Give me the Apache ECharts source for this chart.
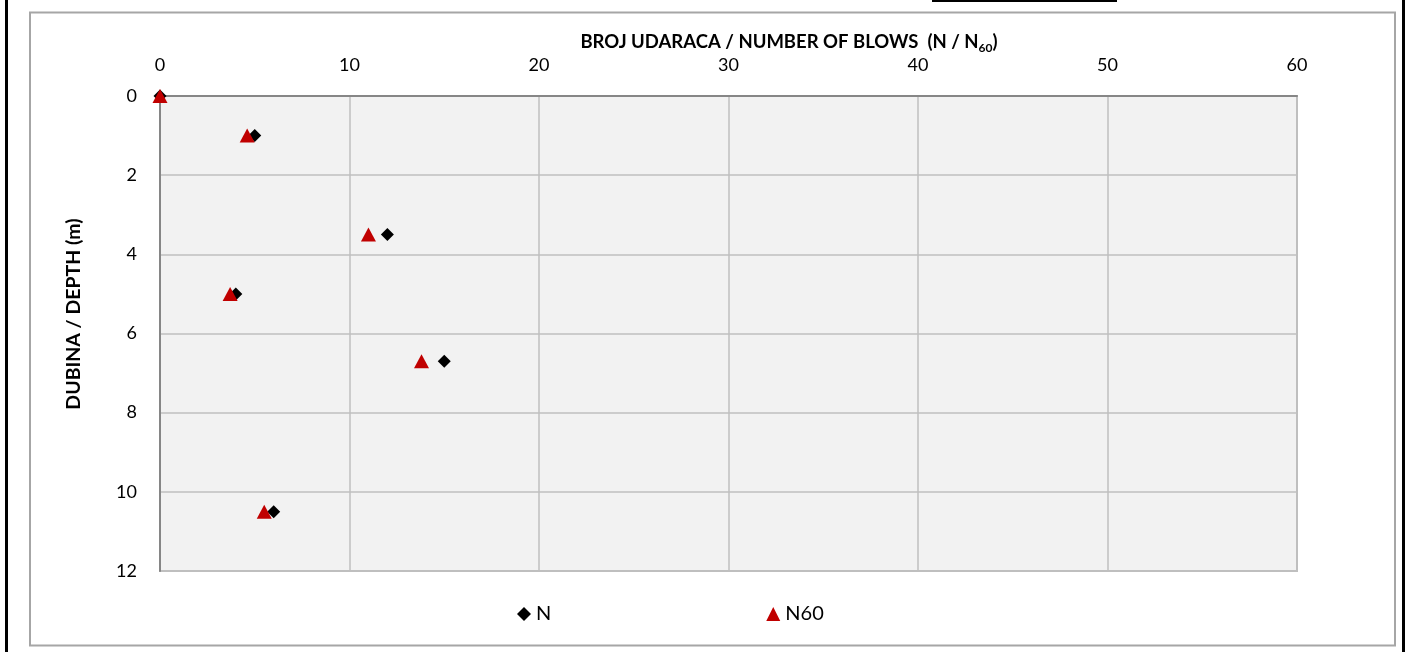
<!DOCTYPE html>
<html><head><meta charset="utf-8">
<script src="https://cdn.jsdelivr.net/npm/echarts@6/dist/echarts.min.js"></script>
<style>html,body{margin:0;padding:0;background:#fff}#c{width:1412px;height:652px}</style>
</head><body><div id="c"></div>
<script>
const depths = [0, 1, 3.5, 5, 6.7, 10.5];
const nValues = [0, 5, 12, 4, 15, 6];
const n60Values = [0, 4.6, 11.0, 3.7, 13.8, 5.5];
const xTicks = [0, 10, 20, 30, 40, 50, 60];
const yTicks = [0, 2, 4, 6, 8, 10, 12];
const seriesNames = ['N', 'N60'];
const xTitle = '{b|BROJ UDARACA / NUMBER OF BLOWS  (N / N}{s|60}{b|)}';
const yTitle = 'DUBINA / DEPTH (m)';
const FONT = 'Lato, "Open Sans", sans-serif';

const chart = echarts.init(document.getElementById('c'), null, {renderer: 'canvas'});
chart.setOption({
  animation: false,
  backgroundColor: '#fff',
  grid: {left: 160, top: 96, right: 115, bottom: 81, show: true, backgroundColor: '#f2f2f2', borderColor: '#bfbfbf', borderWidth: 2},
  graphic: [
    {type: 'rect', shape: {x: 30, y: 12.5, width: 1365, height: 633}, style: {fill: 'none', stroke: '#a6a6a6', lineWidth: 2}, z: 0},
    {type: 'rect', shape: {x: 5, y: 0, width: 3, height: 652}, style: {fill: '#000'}},
    {type: 'rect', shape: {x: 1402, y: 0, width: 3, height: 652}, style: {fill: '#000'}},
    {type: 'rect', shape: {x: 932, y: 0, width: 185, height: 2}, style: {fill: '#000'}},
    {type: 'text', x: 789, y: 42, style: {
      text: xTitle, align: 'center', verticalAlign: 'middle',
      rich: {
        b: {fontFamily: FONT, fontWeight: 'bold', fontSize: 18.5, fill: '#000', lineHeight: 28, verticalAlign: 'middle'},
        s: {fontFamily: FONT, fontWeight: 'bold', fontSize: 12, fill: '#000', lineHeight: 28, verticalAlign: 'bottom', padding: [0, 0, 2, 0]}
      }}},
    {type: 'text', x: 74, y: 314, rotation: Math.PI / 2, style: {
      text: yTitle, align: 'center', verticalAlign: 'middle',
      fontFamily: FONT, fontWeight: 'bold', fontSize: 19.5, fill: '#000'}}
  ],
  xAxis: {
    type: 'value', position: 'top', min: xTicks[0], max: xTicks[xTicks.length-1], interval: 10,
    axisLine: {show: true, lineStyle: {color: '#868686', width: 2}},
    axisTick: {show: false},
    axisLabel: {fontFamily: FONT, fontSize: 18, color: '#000', margin: 22},
    splitLine: {show: true, lineStyle: {color: '#bfbfbf', width: 1.5}}
  },
  yAxis: {
    type: 'value', inverse: true, min: yTicks[0], max: yTicks[yTicks.length-1], interval: 2,
    axisLine: {show: true, lineStyle: {color: '#868686', width: 2}},
    axisTick: {show: false},
    axisLabel: {fontFamily: FONT, fontSize: 18, color: '#000', margin: 23},
    splitLine: {show: true, lineStyle: {color: '#bfbfbf', width: 1.5}}
  },
  legend: {
    left: 512, top: 599, itemGap: 215, itemWidth: 14, itemHeight: 14,
    textStyle: {fontFamily: FONT, fontSize: 20, color: '#000'},
    data: [{name: seriesNames[0], icon: 'diamond'}, {name: seriesNames[1], icon: 'triangle'}]
  },
  series: [
    {name: seriesNames[0], type: 'scatter', symbol: 'diamond', symbolSize: 13,
     itemStyle: {color: '#000', opacity: 1}, data: nValues.map((v, i) => [v, depths[i]]), z: 3},
    {name: seriesNames[1], type: 'scatter', symbol: 'triangle', symbolSize: [15, 14],
     itemStyle: {color: '#c00000', opacity: 1}, data: n60Values.map((v, i) => [v, depths[i]]), z: 4}
  ]
});
</script></body></html>
